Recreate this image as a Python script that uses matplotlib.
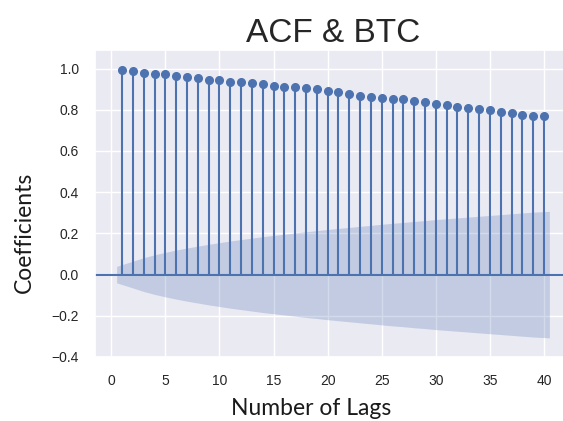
import matplotlib
matplotlib.use("Agg")
import matplotlib.pyplot as plt
import numpy as np
import seaborn as sns

# autocorrelation of BTC, lags 1..40
lags = list(range(1, 41))
acf_values = [
    0.992, 0.986, 0.979, 0.973, 0.973, 0.965, 0.958, 0.952, 0.945, 0.943,
    0.937, 0.933, 0.930, 0.925, 0.917, 0.910, 0.910, 0.904, 0.899, 0.892,
    0.885, 0.876, 0.868, 0.864, 0.856, 0.851, 0.851, 0.844, 0.836, 0.830,
    0.822, 0.815, 0.810, 0.803, 0.798, 0.791, 0.784, 0.776, 0.769, 0.769,
]
# half width of the confidence band at each lag
conf_width = [
    0.040, 0.065, 0.082, 0.096, 0.108, 0.119, 0.129, 0.138, 0.147, 0.155,
    0.163, 0.170, 0.177, 0.184, 0.190, 0.196, 0.202, 0.208, 0.213, 0.219,
    0.224, 0.229, 0.234, 0.239, 0.244, 0.249, 0.253, 0.258, 0.262, 0.267,
    0.271, 0.275, 0.279, 0.283, 0.287, 0.291, 0.295, 0.299, 0.303, 0.307,
]
x_ticks = [0, 5, 10, 15, 20, 25, 30, 35, 40]
y_ticks = [-0.4, -0.2, 0.0, 0.2, 0.4, 0.6, 0.8, 1.0]

sns.set_theme(style="darkgrid")
plt.rcParams["font.family"] = ["Liberation Sans", "DejaVu Sans"]

fig = plt.figure(figsize=(5.63, 4.21), dpi=100)
ax = fig.add_axes([95 / 563, 64 / 421, 476 / 563, 307 / 421])

color = sns.color_palette()[0]
x = np.array(lags, dtype=float)
acf = np.array(acf_values)
ax.vlines(x, 0, acf, color=color, linewidth=1.5)
ax.axhline(0, color=color, linewidth=1.5)
ax.plot(x, acf, marker="o", markersize=5.5, linestyle="None", color=color)

band_x = x.copy()
band_x[0] -= 0.5
band_x[-1] += 0.5
width = np.array(conf_width)
ax.fill_between(band_x, -width, width, color=color, alpha=0.25, linewidth=0)

ax.set_xlim(-1.5, 42.5)
ax.set_ylim(-0.4, 1.09)
ax.set_xticks(x_ticks)
ax.set_yticks(y_ticks)
ax.set_yticklabels([f"{v:.1f}".replace("-", "\u2212") for v in y_ticks])
ax.tick_params(labelsize=10, colors="#262626")
ax.tick_params(axis="x", pad=6.5)
ax.tick_params(axis="y", pad=5.5)

ax.set_title("ACF & BTC", fontsize=24, color="#262626", pad=6)
ax.set_xlabel("Number of Lags", fontsize=16.5, family=["Lato", "DejaVu Sans"],
              color="#1a1a1a")
ax.set_ylabel("Coefficients", fontsize=16.5, family=["Lato", "DejaVu Sans"],
              color="#1a1a1a")
ax.xaxis.set_label_coords(0.454, -0.134)
ax.yaxis.set_label_coords(-0.126, 0.407)

fig.savefig("out.png", dpi=100)
